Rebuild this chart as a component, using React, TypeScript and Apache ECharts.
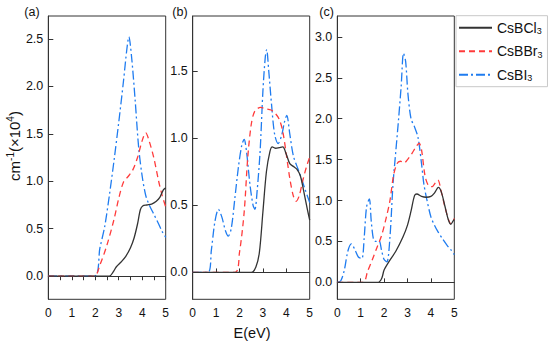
import React, { useEffect, useRef } from "react";
import * as echarts from "echarts";

const SERIES_NAMES = ["CsBCl3", "CsBBr3", "CsBI3"];
const LEGEND_LABELS: Record<string, string> = {
  CsBCl3: "CsBCl{s|3}",
  CsBBr3: "CsBBr{s|3}",
  CsBI3: "CsBI{s|3}",
};
const X_LABELS = [0, 1, 2, 3, 4, 5];
const A_X_TICKS = [0, 0.5, 1, 1.5, 2, 2.5, 3, 3.5, 4, 4.5, 5];
const BC_X_TICKS = [1, 2, 3, 4];
const A_Y_TICKS = [0, 0.5, 1, 1.5, 2, 2.5];
const B_Y_TICKS = [0, 0.5, 1, 1.5];
const C_Y_TICKS = [0, 0.5, 1, 1.5, 2, 2.5, 3];

// Panel (a)
const aCl = [[0,0],[2.6,0],[2.75,0.04],[2.9,0.1],[3.1,0.15],[3.3,0.21],[3.5,0.3],[3.65,0.4],[3.8,0.55],[3.92,0.7],[4.02,0.74],[4.2,0.75],[4.4,0.76],[4.6,0.79],[4.75,0.83],[4.9,0.91],[5,0.93]];
const aBr = [[0,0],[1.95,0],[2.2,0.12],[2.5,0.33],[2.8,0.6],[3.0,0.82],[3.2,0.99],[3.4,1.05],[3.6,1.12],[3.8,1.25],[4.0,1.43],[4.15,1.51],[4.3,1.42],[4.5,1.24],[4.7,1.0],[4.85,0.85],[5,0.73]];
const aI = [[0,0],[1.95,0],[2.2,0.3],[2.4,0.52],[2.6,0.85],[2.8,1.22],[3.0,1.62],[3.2,2.05],[3.35,2.4],[3.43,2.52],[3.55,2.3],[3.7,1.85],[3.85,1.35],[4.0,1.05],[4.15,0.85],[4.3,0.75],[4.5,0.65],[4.7,0.55],[4.85,0.47],[5,0.41]];
// Panel (b)
const bCl = [[0,0],[2.5,0],[2.7,0.04],[2.85,0.15],[3.0,0.45],[3.15,0.75],[3.3,0.9],[3.4,0.935],[3.55,0.925],[3.7,0.93],[3.85,0.935],[4.0,0.88],[4.15,0.81],[4.3,0.79],[4.45,0.77],[4.6,0.72],[4.75,0.6],[4.9,0.47],[5,0.39]];
const bBr = [[0,0],[1.8,0],[2.0,0.15],[2.2,0.45],[2.35,0.85],[2.5,1.1],[2.65,1.2],[2.9,1.23],[3.1,1.22],[3.35,1.21],[3.55,1.18],[3.7,1.14],[3.85,1.05],[4.0,0.88],[4.15,0.7],[4.3,0.57],[4.42,0.53],[4.55,0.57],[4.7,0.68],[4.85,0.78],[5,0.86]];
const bI = [[0,0],[0.65,0],[0.8,0.17],[0.95,0.38],[1.1,0.47],[1.25,0.41],[1.4,0.31],[1.52,0.27],[1.65,0.33],[1.8,0.55],[1.95,0.78],[2.1,0.95],[2.2,0.99],[2.3,0.9],[2.45,0.65],[2.58,0.5],[2.66,0.47],[2.75,0.6],[2.88,0.9],[3.0,1.35],[3.1,1.6],[3.16,1.66],[3.25,1.5],[3.37,1.25],[3.5,1.03],[3.65,0.96],[3.8,1.02],[3.92,1.12],[4.02,1.17],[4.15,1.03],[4.3,0.87],[4.5,0.77],[4.65,0.7],[4.8,0.62],[5,0.52]];
// Panel (c)
const cCl = [[0,0],[1.75,0],[1.9,0.05],[2.0,0.15],[2.2,0.25],[2.5,0.38],[2.8,0.55],[3.0,0.7],[3.15,0.87],[3.3,1.06],[3.4,1.08],[3.6,1.05],[3.8,1.04],[4.0,1.05],[4.15,1.09],[4.32,1.16],[4.45,1.1],[4.6,0.93],[4.75,0.76],[4.85,0.71],[4.95,0.75],[5,0.77]];
const cBr = [[0,0],[1.1,0],[1.3,0.14],[1.5,0.28],[1.7,0.43],[1.9,0.58],[2.1,0.8],[2.25,1.0],[2.4,1.3],[2.55,1.45],[2.7,1.48],[2.85,1.46],[3.0,1.5],[3.2,1.58],[3.35,1.65],[3.5,1.7],[3.6,1.62],[3.75,1.3],[3.9,1.18],[4.05,1.17],[4.2,1.22],[4.3,1.25],[4.45,1.1],[4.6,0.92],[4.75,0.77],[4.85,0.72],[5,0.78]];
const cI = [[0,0],[0.15,0.02],[0.3,0.15],[0.45,0.38],[0.6,0.47],[0.75,0.4],[0.9,0.31],[1.05,0.29],[1.15,0.55],[1.25,0.92],[1.37,1.02],[1.45,0.75],[1.55,0.52],[1.65,0.5],[1.78,0.51],[1.9,0.38],[2.0,0.28],[2.12,0.25],[2.25,0.55],[2.38,1.2],[2.5,1.6],[2.62,2.0],[2.73,2.4],[2.83,2.8],[2.92,2.7],[3.02,2.3],[3.15,2.0],[3.3,1.9],[3.45,1.77],[3.6,1.45],[3.7,1.2],[3.82,1.02],[4.0,0.8],[4.15,0.7],[4.3,0.62],[4.5,0.53],[4.7,0.45],[4.85,0.4],[5,0.34]];

const PANELS = [
  { data: [aCl, aBr, aI], yMin: -0.243, yMax: 2.74, yTicks: A_Y_TICKS, xTicks: A_X_TICKS, xInside: false },
  { data: [bCl, bBr, bI], yMin: -0.2, yMax: 1.91, yTicks: B_Y_TICKS, xTicks: BC_X_TICKS, xInside: true },
  { data: [cCl, cBr, cI], yMin: -0.207, yMax: 3.255, yTicks: C_Y_TICKS, xTicks: BC_X_TICKS, xInside: true },
];

const GRIDS = [
  { left: 48.3, top: 16, width: 117.4, height: 283.3 },
  { left: 192.7, top: 16, width: 117, height: 283.3 },
  { left: 337.3, top: 16, width: 117, height: 283.3 },
];

const COLORS = ["#333333", "#ff3b3b", "#1f7cf0"];
const DASHES: any[] = ["solid", [6, 4], [9, 3, 2, 3]];
const FONT = "Liberation Sans, Arial, sans-serif";

export default function App() {
  const ref = useRef<HTMLDivElement>(null);
  useEffect(() => {
    if (!ref.current) return;
    const chart = echarts.init(ref.current, undefined, { renderer: "svg" });
    const fmt = (v: number) => v.toFixed(1);
    const xAxis = PANELS.map((p, i) => ({
      type: "value",
      gridIndex: i,
      min: 0,
      max: 5,
      interval: 1,
      axisLine: { show: true, lineStyle: { color: "#333", width: 1 } },
      axisTick: {
        show: true,
        inside: p.xInside,
        length: 4,
        customValues: p.xTicks,
        lineStyle: { color: "#333" },
      },
      axisLabel: {
        customValues: X_LABELS,
        margin: 8,
        color: "#111",
        fontSize: 12,
        fontFamily: FONT,
        showMinLabel: true,
        showMaxLabel: true,
      },
      splitLine: { show: false },
    }));
    const yAxis = PANELS.map((p, i) => ({
      type: "value",
      gridIndex: i,
      min: p.yMin,
      max: p.yMax,
      axisLine: { show: true, lineStyle: { color: "#333", width: 1 } },
      axisTick: {
        show: true,
        inside: true,
        length: 5,
        customValues: p.yTicks,
        lineStyle: { color: "#333" },
      },
      axisLabel: {
        customValues: p.yTicks,
        formatter: fmt,
        margin: 5,
        color: "#111",
        fontSize: 12.5,
        fontFamily: FONT,
      },
      splitLine: { show: false },
    }));
    const series: any[] = [];
    PANELS.forEach((p, i) => {
      p.data.forEach((d, k) => {
        series.push({
          type: "line",
          name: SERIES_NAMES[k],
          xAxisIndex: i,
          yAxisIndex: i,
          data: d,
          symbol: "none",
          smooth: 0.3,
          lineStyle: { color: COLORS[k], width: 1.3, type: DASHES[k] },
          itemStyle: { color: COLORS[k] },
          z: 3 - k,
        });
      });
    });
    chart.setOption({
      animation: false,
      backgroundColor: "#ffffff",
      grid: GRIDS.map((g) => ({ ...g, show: true, borderColor: "#333", borderWidth: 1, backgroundColor: "transparent" })),
      xAxis,
      yAxis,
      legend: {
        data: SERIES_NAMES,
        orient: "vertical",
        left: 456,
        top: 15.7,
        itemWidth: 33,
        itemHeight: 14,
        itemGap: 7.5,
        padding: [4, 5, 4, 2],
        backgroundColor: "#fff",
        borderColor: "#c8c8c8",
        borderWidth: 1,
        itemStyle: { opacity: 0 },
        formatter: (n: string) => LEGEND_LABELS[n],
        textStyle: {
          fontSize: 14,
          fontFamily: FONT,
          color: "#111",
          lineHeight: 16,
          padding: [0, 0, 0, 0],
          rich: {
            s: { fontSize: 9, lineHeight: 9, verticalAlign: "bottom", fontFamily: FONT, color: "#111" },
          },
        },
      },
      graphic: [
        {
          type: "text",
          x: 14,
          y: 146,
          rotation: Math.PI / 2,
          style: {
            text: "cm{p|-1}(×10{p|4})",
            fontSize: 15,
            fontFamily: FONT,
            fill: "#111",
            lineHeight: 17,
            align: "center",
            verticalAlign: "middle",
            rich: {
              p: { fontSize: 10, lineHeight: 10, verticalAlign: "top", fontFamily: FONT, fill: "#111" },
            },
          },
        },
        {
          type: "text",
          x: 252,
          y: 333,
          style: { text: "E(eV)", fontSize: 14.5, fontFamily: FONT, fill: "#111", align: "center", verticalAlign: "middle" },
        },
        { type: "text", x: 32, y: 12, style: { text: "(a)", fontSize: 12.5, fontFamily: FONT, fill: "#111", align: "center", verticalAlign: "middle" } },
        { type: "text", x: 180, y: 12, style: { text: "(b)", fontSize: 12.5, fontFamily: FONT, fill: "#111", align: "center", verticalAlign: "middle" } },
        { type: "text", x: 326.5, y: 12, style: { text: "(c)", fontSize: 12.5, fontFamily: FONT, fill: "#111", align: "center", verticalAlign: "middle" } },
      ],
      series,
    });
    return () => chart.dispose();
  }, []);
  return (
    <div
      ref={ref}
      style={{ position: "absolute", left: 0, top: 0, width: 550, height: 348 }}
    />
  );
}
